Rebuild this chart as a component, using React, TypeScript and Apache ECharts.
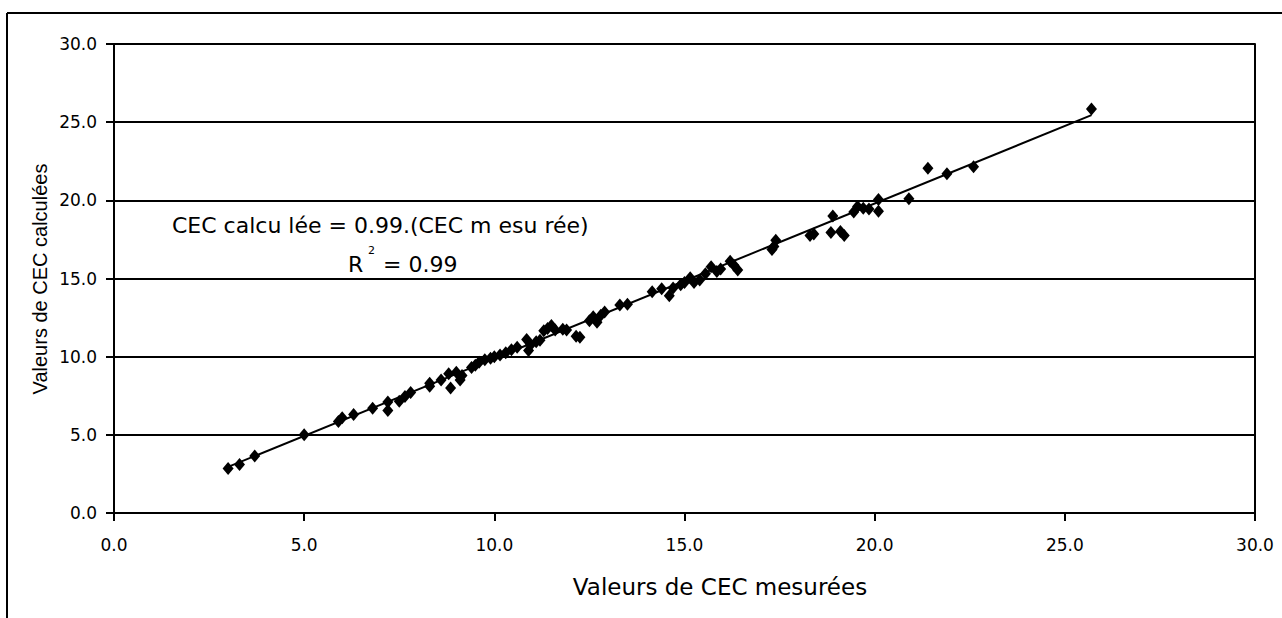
import React, { useEffect, useRef } from "react";
import * as echarts from "echarts";

const measuredCEC = [
  3.0, 3.3, 3.7, 5.0, 5.9, 6.0, 6.3, 6.8, 7.2, 7.2, 7.5, 7.65, 7.8,
  8.3, 8.3, 8.6, 8.8, 8.85, 9.0, 9.1, 9.15, 9.4, 9.5, 9.6, 9.75, 9.9,
  10.0, 10.15, 10.3, 10.45, 10.6, 10.85, 10.9, 10.95, 11.1, 11.2, 11.3, 11.4,
  11.5, 11.6, 11.8, 11.9, 12.15, 12.25, 12.5, 12.6, 12.7, 12.8, 12.9,
  13.3, 13.5, 14.15, 14.4, 14.6, 14.7, 14.9, 15.0, 15.15, 15.25, 15.4,
  15.55, 15.7, 15.85, 15.95, 16.2, 16.3, 16.4, 17.3, 17.35, 17.4,
  18.3, 18.4, 18.85, 18.9, 19.1, 19.2, 19.45, 19.55, 19.7, 19.85, 20.1,
  20.1, 20.9, 21.4, 21.9, 22.6, 25.7,
];

const calculatedCEC = [
  2.85, 3.1, 3.65, 5.0, 5.85, 6.1, 6.3, 6.7, 7.1, 6.55, 7.15, 7.45, 7.7,
  8.3, 8.1, 8.5, 8.9, 8.0, 9.0, 8.5, 8.8, 9.3, 9.45, 9.65, 9.8, 9.9,
  10.0, 10.1, 10.25, 10.45, 10.6, 11.1, 10.4, 10.75, 10.95, 11.05, 11.65, 11.8,
  12.0, 11.7, 11.75, 11.7, 11.3, 11.25, 12.3, 12.55, 12.2, 12.65, 12.85,
  13.3, 13.35, 14.15, 14.35, 13.9, 14.4, 14.6, 14.75, 15.05, 14.75, 14.9,
  15.3, 15.75, 15.45, 15.6, 16.1, 15.85, 15.55, 16.85, 17.05, 17.45,
  17.75, 17.85, 17.95, 19.0, 18.0, 17.75, 19.25, 19.6, 19.5, 19.45, 20.05,
  19.3, 20.1, 22.05, 21.7, 22.15, 25.85,
];

const trendX = [3.0, 25.7];
const trendY = [2.95, 25.45];

const axisTicks = [0, 5, 10, 15, 20, 25, 30];

const FONT = "'DejaVu Sans', 'Liberation Sans', Arial, sans-serif";
const FONT2 = "'Liberation Sans', Arial, sans-serif";

export default function App() {
  const ref = useRef<HTMLDivElement>(null);

  useEffect(() => {
    if (!ref.current) return;
    const chart = echarts.init(ref.current, null, { renderer: "svg" });
    const points = measuredCEC.map((x, i) => [x, calculatedCEC[i]]);
    const trend = trendX.map((x, i) => [x, trendY[i]]);

    chart.setOption({
      animation: false,
      backgroundColor: "#ffffff",
      grid: { left: 114, top: 44, width: 1141, height: 469, containLabel: false },
      xAxis: {
        type: "value",
        min: axisTicks[0],
        max: axisTicks[axisTicks.length - 1],
        interval: 5,
        axisLine: { show: true, onZero: false, lineStyle: { color: "#000", width: 2 } },
        axisTick: { show: true, inside: false, length: 8, lineStyle: { color: "#000", width: 2 } },
        axisLabel: {
          color: "#000",
          fontFamily: FONT,
          fontSize: 17,
          margin: 23,
          formatter: (v: number) => v.toFixed(1),
        },
        splitLine: { show: false },
      },
      yAxis: [
        {
          type: "value",
          min: axisTicks[0],
          max: axisTicks[axisTicks.length - 1],
          interval: 5,
          axisLine: { show: true, onZero: false, lineStyle: { color: "#000", width: 2 } },
          axisTick: { show: true, inside: false, length: 8, lineStyle: { color: "#000", width: 2 } },
          axisLabel: {
            color: "#000",
            fontFamily: FONT,
            fontSize: 17,
            margin: 17,
            formatter: (v: number) => v.toFixed(1),
          },
          splitLine: { show: true, lineStyle: { color: "#000", width: 2 } },
        },
        {
          type: "value",
          position: "right",
          min: axisTicks[0],
          max: axisTicks[axisTicks.length - 1],
          interval: 5,
          axisLine: { show: true, onZero: false, lineStyle: { color: "#000", width: 2 } },
          axisTick: { show: false },
          axisLabel: { show: false },
          splitLine: { show: false },
        },
      ],
      series: [
        {
          type: "line",
          data: trend,
          yAxisIndex: 0,
          symbol: "none",
          lineStyle: { color: "#000", width: 2 },
          z: 3,
        },
        {
          type: "scatter",
          data: points,
          yAxisIndex: 0,
          symbol: "diamond",
          symbolSize: [11, 13],
          itemStyle: { color: "#000", opacity: 1 },
          z: 4,
        },
      ],
      graphic: [
        {
          type: "line",
          shape: { x1: 7, y1: 13, x2: 1282, y2: 13 },
          style: { stroke: "#000", lineWidth: 2 },
        },
        {
          type: "line",
          shape: { x1: 7, y1: 13, x2: 7, y2: 618 },
          style: { stroke: "#000", lineWidth: 2 },
        },
        {
          type: "text",
          x: 720,
          y: 587,
          style: {
            text: "Valeurs de CEC mesurées",
            font: `23px ${FONT}`,
            fill: "#000",
            align: "center",
            verticalAlign: "middle",
          },
        },
        {
          type: "text",
          x: 40,
          y: 279,
          rotation: Math.PI / 2,
          style: {
            text: "Valeurs de CEC calculées",
            font: `20px ${FONT2}`,
            fill: "#000",
            align: "center",
            verticalAlign: "middle",
          },
        },
        {
          type: "text",
          x: 172,
          y: 225,
          style: {
            text: "CEC calcu lée = 0.99.(CEC m esu rée)",
            font: `22px ${FONT}`,
            fill: "#000",
            align: "left",
            verticalAlign: "middle",
          },
        },
        {
          type: "text",
          x: 348,
          y: 264,
          style: {
            text: "R",
            font: `22px ${FONT}`,
            fill: "#000",
            align: "left",
            verticalAlign: "middle",
          },
        },
        {
          type: "text",
          x: 368,
          y: 250,
          style: {
            text: "2",
            font: `11px ${FONT}`,
            fill: "#000",
            align: "left",
            verticalAlign: "middle",
          },
        },
        {
          type: "text",
          x: 383,
          y: 264,
          style: {
            text: "= 0.99",
            font: `22px ${FONT}`,
            fill: "#000",
            align: "left",
            verticalAlign: "middle",
          },
        },
      ],
    });

    return () => chart.dispose();
  }, []);

  return (
    <div
      ref={ref}
      style={{ position: "absolute", left: 0, top: 0, width: 1282, height: 618 }}
    />
  );
}
